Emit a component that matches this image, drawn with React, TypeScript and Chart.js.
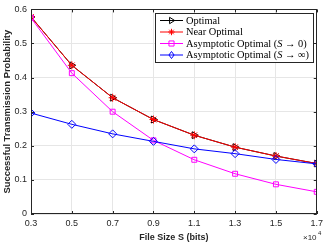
import React, { useEffect, useRef } from "react";
import { Chart, registerables } from "chart.js";

Chart.register(...registerables);

const fileSizes = [0.3, 0.5, 0.7, 0.9, 1.1, 1.3, 1.5, 1.7];
const optimal = [0.578, 0.436, 0.341, 0.277, 0.231, 0.196, 0.170, 0.148];
const nearOptimal = [0.578, 0.436, 0.341, 0.277, 0.231, 0.196, 0.170, 0.148];
const asymZero = [0.575, 0.413, 0.300, 0.216, 0.159, 0.118, 0.087, 0.065];
const asymInf = [0.296, 0.263, 0.235, 0.213, 0.191, 0.177, 0.160, 0.147];
const xTicks = [0.3, 0.5, 0.7, 0.9, 1.1, 1.3, 1.5, 1.7];
const yTicks = [0, 0.1, 0.2, 0.3, 0.4, 0.5, 0.6];

const toPts = (ys: number[]) => fileSizes.map((x, i) => ({ x, y: ys[i] }));

const SANS = "'Liberation Sans', Arial, sans-serif";
const SERIF = "'Liberation Serif', 'Times New Roman', serif";

function drawMarker(ctx: CanvasRenderingContext2D, kind: string, x: number, y: number, r: number, color: string) {
  ctx.save();
  ctx.strokeStyle = color;
  ctx.lineWidth = 1;
  ctx.beginPath();
  if (kind === "tri") {
    ctx.moveTo(x + r, y);
    ctx.lineTo(x - r * 0.6, y - r);
    ctx.lineTo(x - r * 0.6, y + r);
    ctx.closePath();
  } else if (kind === "star") {
    ctx.moveTo(x - r, y); ctx.lineTo(x + r, y);
    ctx.moveTo(x, y - r); ctx.lineTo(x, y + r);
    const d = r * 0.7;
    ctx.moveTo(x - d, y - d); ctx.lineTo(x + d, y + d);
    ctx.moveTo(x - d, y + d); ctx.lineTo(x + d, y - d);
  } else if (kind === "sq") {
    ctx.rect(x - r * 0.8, y - r * 0.8, r * 1.6, r * 1.6);
  } else if (kind === "dia") {
    ctx.moveTo(x, y - r * 1.1);
    ctx.lineTo(x + r * 0.8, y);
    ctx.lineTo(x, y + r * 1.1);
    ctx.lineTo(x - r * 0.8, y);
    ctx.closePath();
  }
  ctx.stroke();
  ctx.restore();
}

const legendItems = [
  { color: "#000000", marker: "tri", parts: [["Optimal", false]] },
  { color: "#ff0000", marker: "star", parts: [["Near Optimal", false]] },
  { color: "#ff00ff", marker: "sq", parts: [["Asymptotic Optimal (", false], ["S", true], [" \u2192 0)", false]] },
  { color: "#0000ff", marker: "dia", parts: [["Asymptotic Optimal (", false], ["S", true], [" \u2192 \u221e)", false]] },
];

const framePlugin = {
  id: "frame",
  afterDatasetsDraw(chart: any) {
    const { ctx, chartArea: a } = chart;
    ctx.save();
    ctx.strokeStyle = "#262626";
    ctx.lineWidth = 1;
    ctx.strokeRect(Math.round(a.left) + 0.5, Math.round(a.top) + 0.5, Math.round(a.right - a.left) - 1, Math.round(a.bottom - a.top) - 1);
    // inward ticks
    const xs = chart.scales.x, ys = chart.scales.y;
    ctx.beginPath();
    xTicks.forEach((v) => {
      const px = Math.round(xs.getPixelForValue(v)) + 0.5;
      ctx.moveTo(px, a.bottom); ctx.lineTo(px, a.bottom - 3);
      ctx.moveTo(px, a.top); ctx.lineTo(px, a.top + 3);
    });
    yTicks.forEach((v) => {
      const py = Math.round(ys.getPixelForValue(v)) + 0.5;
      ctx.moveTo(a.left, py); ctx.lineTo(a.left + 3, py);
      ctx.moveTo(a.right, py); ctx.lineTo(a.right - 3, py);
    });
    ctx.stroke();

    // exponent label
    ctx.fillStyle = "#262626";
    ctx.textBaseline = "alphabetic";
    ctx.font = `8px ${SANS}`;
    ctx.textAlign = "left";
    ctx.fillText("\u00d710", 303, 240);
    ctx.font = `6px ${SANS}`;
    ctx.fillText("4", 318, 235);

    // legend
    const lx = 155.5, ly = 13.5, lw = 158, lh = 49;
    ctx.fillStyle = "#ffffff";
    ctx.fillRect(lx, ly, lw, lh);
    ctx.strokeStyle = "#262626";
    ctx.strokeRect(lx, ly, lw, lh);
    const rows = [20.5, 32, 43.5, 55];
    legendItems.forEach((it, i) => {
      const y = rows[i];
      ctx.strokeStyle = it.color;
      ctx.lineWidth = 1;
      ctx.beginPath();
      ctx.moveTo(160, y); ctx.lineTo(183, y);
      ctx.stroke();
      drawMarker(ctx, it.marker, 171.5, y, 3.2, it.color);
      let tx = 186;
      ctx.fillStyle = "#000000";
      ctx.textBaseline = "middle";
      (it.parts as any[]).forEach(([txt, ital]) => {
        ctx.font = `${ital ? "italic " : ""}10.4px ${SERIF}`;
        ctx.fillText(txt, tx, y + 0.5);
        tx += ctx.measureText(txt).width;
      });
    });
    ctx.restore();
  },
};

export default function App() {
  const ref = useRef<HTMLCanvasElement>(null);
  useEffect(() => {
    document.body.style.margin = "0";
    const mk = (label: string, data: number[], color: string, style: any, rot: number, order: number, radius: number) => ({
      label,
      data: toPts(data),
      borderColor: color,
      backgroundColor: "rgba(0,0,0,0)",
      borderWidth: 1,
      pointStyle: style,
      pointRotation: rot,
      pointRadius: radius,
      pointBorderColor: color,
      pointBackgroundColor: "rgba(0,0,0,0)",
      pointBorderWidth: 1,
      order,
      tension: 0,
    });
    const chart = new Chart(ref.current!, {
      type: "line",
      data: {
        datasets: [
          mk("Optimal", optimal, "#000000", "triangle", 90, 4, 4),
          mk("Near Optimal", nearOptimal, "#ff0000", "star", 0, 3, 4),
          mk("Asymptotic Optimal (S \u2192 0)", asymZero, "#ff00ff", "rect", 0, 2, 3.5),
          mk("Asymptotic Optimal (S \u2192 \u221e)", asymInf, "#0000ff", "rectRot", 0, 1, 4),
        ],
      },
      options: {
        animation: false,
        responsive: false,
        maintainAspectRatio: false,
        layout: { padding: { top: 6, right: 5, left: 0, bottom: 0 } },
        plugins: { legend: { display: false }, tooltip: { enabled: false } },
        scales: {
          x: {
            type: "linear",
            min: 0.3,
            max: 1.7,
            afterBuildTicks: (s: any) => { s.ticks = xTicks.map((v) => ({ value: v })); },
            afterFit: (s: any) => { s.height = 31; },
            ticks: {
              callback: (v: any) => Number(v).toFixed(1),
              font: { family: SANS, size: 9 },
              color: "#262626",
              padding: 4,
              maxRotation: 0,
              autoSkip: false,
            },
            grid: { color: "#e6e6e6", drawTicks: false },
            border: { display: false },
            title: {
              display: true,
              text: "File Size S (bits)",
              font: { family: SANS, size: 9, weight: "bold" },
              color: "#262626",
              padding: { top: 0, bottom: 2 },
            },
          },
          y: {
            type: "linear",
            min: 0,
            max: 0.6,
            afterBuildTicks: (s: any) => { s.ticks = yTicks.map((v) => ({ value: v })); },
            afterFit: (s: any) => { s.width = 31; },
            ticks: {
              callback: (v: any) => (Number(v) === 0 ? "0" : Number(v).toFixed(1)),
              font: { family: SANS, size: 9 },
              color: "#262626",
              padding: 4,
              autoSkip: false,
            },
            grid: { color: "#e6e6e6", drawTicks: false },
            border: { display: false },
            title: {
              display: true,
              text: "Successful Transmission Probability",
              font: { family: SANS, size: 9.4, weight: "bold" },
              color: "#262626",
              padding: { top: 2, bottom: 0 },
            },
          },
        },
      },
      plugins: [framePlugin],
    } as any);
    return () => chart.destroy();
  }, []);
  return (
    <div style={{ position: "absolute", left: 0, top: 0, width: 327, height: 245 }}>
      <canvas ref={ref} width={327} height={245} style={{ display: "block" }} />
    </div>
  );
}
